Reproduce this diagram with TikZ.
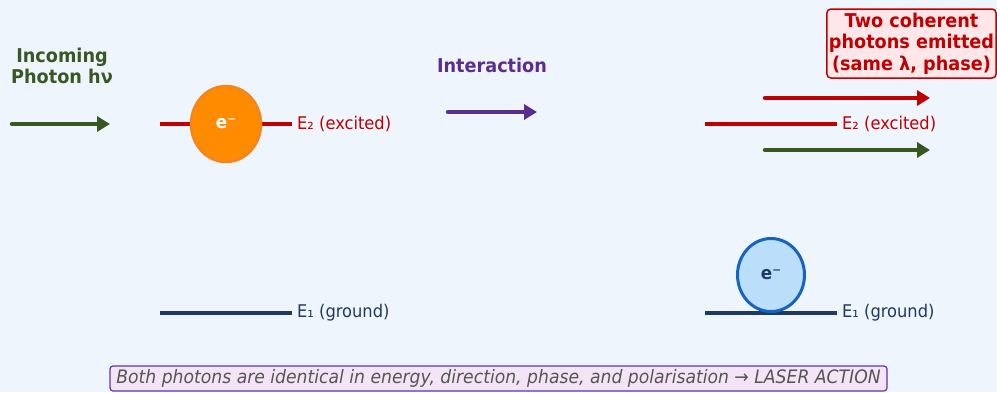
\documentclass[tikz,border=0pt]{standalone}
\usepackage{fontspec}
\setmainfont{DejaVu Sans}[FakeStretch=0.93]
\usetikzlibrary{arrows.meta,shapes.geometric}
\definecolor{bg}{HTML}{EFF5FD}
\definecolor{pgreen}{HTML}{385723}
\definecolor{lred}{HTML}{C00000}
\definecolor{lnavy}{HTML}{1F3864}
\definecolor{lpurple}{HTML}{5C2D91}
\definecolor{eorange}{HTML}{FF8C00}
\definecolor{eorangeb}{HTML}{F5841F}
\definecolor{eblue}{HTML}{BBDEFB}
\definecolor{eblueb}{HTML}{1565C0}
\definecolor{pinkbox}{HTML}{FFE6E8}
\definecolor{lavbox}{HTML}{F3E5F5}
\definecolor{lavb}{HTML}{5E35B1}
\definecolor{notegray}{HTML}{555555}
\tikzset{
  photon/.style={line width=4.5pt, line cap=round, -{Triangle[length=13pt,width=15pt]}},
  levelline/.style={line width=4pt},
  lvlabel/.style={anchor=west, inner sep=0pt, font=\fontsize{17.5}{20}\selectfont},
  boldlabel/.style={align=center, font=\bfseries\fontsize{19}{21.5}\selectfont, inner sep=0pt},
  electron/.style={ellipse, inner sep=0pt, font=\bfseries\fontsize{18}{20}\selectfont},
}
\begin{document}
\begin{tikzpicture}[x=1pt,y=-1pt]
\fill[bg] (0,0) rectangle (997,392);
\useasboundingbox (0,0) rectangle (997,392);

% left side
\node[boldlabel, text=pgreen] (inc) at (62,66) {Incoming\\Photon hν};
\coordinate (pa) at (12,124);
\coordinate (pb) at (110,124);
\draw[photon, pgreen] (pa) -- (pb);

\coordinate (e2la) at (160,124);
\coordinate (e2lb) at (292,124);
\draw[levelline, lred] (e2la) -- (e2lb);
\node[lvlabel, text=lred] (e2l) at (297,124) {E₂ (excited)};
\node[electron, draw=eorangeb, fill=eorange, line width=2.5pt, text=white, minimum width=70pt, minimum height=76pt] (eo) at (226,124) {e⁻};

\coordinate (e1la) at (160,313);
\coordinate (e1lb) at (292,313);
\draw[levelline, lnavy] (e1la) -- (e1lb);
\node[lvlabel, text=lnavy] (e1l) at (297,313) {E₁ (ground)};

% middle
\node[boldlabel, text=lpurple] (inter) at (492,65) {Interaction};
\coordinate (ia) at (448,112);
\coordinate (ib) at (537,112);
\draw[photon, lpurple] (ia) -- (ib);

% right side
\node[draw=lred, fill=pinkbox, rounded corners=4pt, line width=1.5pt, boldlabel, text=lred, inner xsep=2pt, inner ysep=3pt, minimum width=169pt, minimum height=69pt] (two) at (911.5,43.5) {Two coherent\\photons emitted\\(same λ, phase)};

\coordinate (ra) at (765,98);
\coordinate (rb) at (930,98);
\draw[photon, lred] (ra) -- (rb);
\coordinate (ga) at (765,150);
\coordinate (gb) at (930,150);
\draw[photon, pgreen] (ga) -- (gb);

\coordinate (e2ra) at (705,124);
\coordinate (e2rb) at (837,124);
\draw[levelline, lred] (e2ra) -- (e2rb);
\node[lvlabel, text=lred] (e2r) at (842,124) {E₂ (excited)};

\coordinate (e1ra) at (705,313);
\coordinate (e1rb) at (837,313);
\draw[levelline, lnavy] (e1ra) -- (e1rb);
\node[lvlabel, text=lnavy] (e1r) at (842,313) {E₁ (ground)};
\node[electron, draw=eblueb, fill=eblue, line width=3pt, text=lnavy, minimum width=67pt, minimum height=73pt] (eb) at (771,275) {e⁻};

% bottom note
\node[draw=lavb, fill=lavbox, rounded corners=3pt, line width=1.2pt, text=notegray, font=\itshape\fontsize{18.5}{20}\selectfont, minimum width=777pt, minimum height=25pt, inner sep=0pt] (note) at (498.5,378.5) {Both photons are identical in energy, direction, phase, and polarisation → LASER ACTION};
\end{tikzpicture}
\end{document}
